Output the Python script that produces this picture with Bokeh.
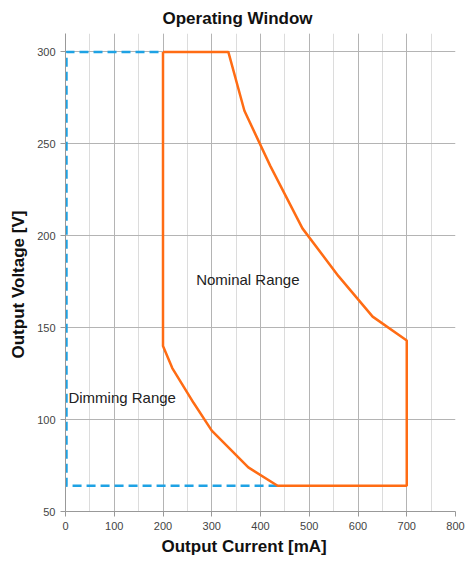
from bokeh.plotting import figure
from bokeh.models import Range1d, SingleIntervalTicker, Label, Title
from bokeh.embed import file_html
from bokeh.resources import INLINE

# Nominal operating window (polygon, current mA, voltage V)
nominal_current = [200, 334, 367, 420, 486, 560, 630, 700, 700, 435, 375, 300, 263, 219, 200, 200]
nominal_voltage = [300, 300, 268, 238, 204, 178, 156, 143, 64, 64, 74, 94, 109, 128, 140, 300]

# Dimming range boundary (dashed)
dimming_current = [435, 2, 2, 200]
dimming_voltage = [64, 64, 300, 300]

x_ticks = [0, 100, 200, 300, 400, 500, 600, 700, 800]
y_ticks = [50, 100, 150, 200, 250, 300]

FONT = "Liberation Sans"

p = figure(width=465, height=563, output_backend="svg", toolbar_location=None,
           x_range=Range1d(0, 800), y_range=Range1d(50, 310),
           min_border_left=65, min_border_right=10, min_border_top=33, min_border_bottom=52)

p.title.text = "Operating Window"
p.title.align = "left"
p.title.offset = 97
p.title.standoff = 12
p.title.text_font = FONT
p.title.text_font_size = "17px"
p.title.text_font_style = "bold"
p.title.text_color = "#111111"

p.outline_line_color = None
p.background_fill_color = "white"

p.xaxis.ticker = SingleIntervalTicker(interval=100, num_minor_ticks=2)
p.yaxis.ticker = SingleIntervalTicker(interval=50, num_minor_ticks=0)

for ax in (p.xaxis, p.yaxis):
    ax.axis_line_color = "#999999"
    ax.major_tick_line_color = "#999999"
    ax.minor_tick_line_color = None
    ax.major_tick_out = 5
    ax.major_tick_in = 0
    ax.major_label_text_font = FONT
    ax.major_label_text_font_size = "11px"
    ax.major_label_text_color = "#444444"

xlabel = Title(text="Output Current [mA]", align="left", offset=96, standoff=4,
               text_font=FONT, text_font_size="17px", text_font_style="bold", text_color="#111111")
ylabel = Title(text="Output Voltage [V]", align="left", offset=153, standoff=13,
               text_font=FONT, text_font_size="17px", text_font_style="bold", text_color="#111111")
p.add_layout(xlabel, "below")
p.add_layout(ylabel, "left")

p.xgrid.grid_line_color = "#b4b4b4"
p.xgrid.minor_grid_line_color = "#dcdcdc"
p.ygrid.grid_line_color = "#b4b4b4"

p.line(dimming_current, dimming_voltage, line_color="#1ea2e4", line_width=2.5, line_dash="9 5")
p.line(nominal_current, nominal_voltage, line_color="#ff6c14", line_width=2.5)

p.add_layout(Label(x=268, y=176, text="Nominal Range", text_font=FONT, text_font_size="15px",
                   text_color="#222222", text_baseline="middle"))
p.add_layout(Label(x=6, y=112, text="Dimming Range", text_font=FONT, text_font_size="15px",
                   text_color="#222222", text_baseline="middle"))

open("out.html", "w").write(file_html(p, INLINE))
